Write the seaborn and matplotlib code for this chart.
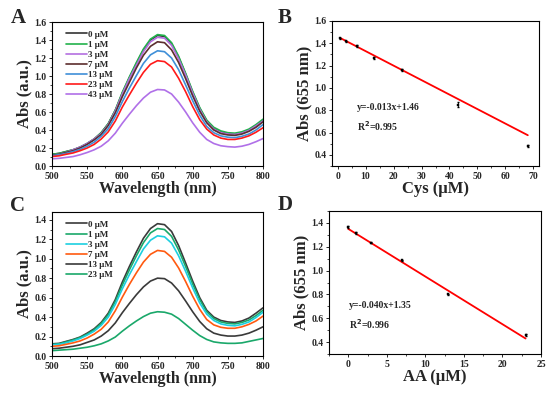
import numpy as np
import pandas as pd
import matplotlib
matplotlib.use('Agg')
import matplotlib.pyplot as plt
import seaborn as sns
from matplotlib.ticker import MultipleLocator

sns.set_style('ticks')
plt.rcParams['font.family'] = ['Liberation Serif', 'DejaVu Serif']
plt.rcParams['font.weight'] = 'bold'
plt.rcParams['axes.labelweight'] = 'bold'
plt.rcParams['axes.linewidth'] = 0.8

# ── Spectra data ──
WL = list(range(500, 801, 10))

CYS_LABELS = ['0 μM', '1 μM', '3 μM', '7 μM', '13 μM', '23 μM', '43 μM']
CYS_SPECTRA = [
    [0.13, 0.14, 0.16, 0.18, 0.21, 0.25, 0.30, 0.37, 0.47, 0.62, 0.81, 0.98, 1.14, 1.29, 1.40, 1.45,
     1.44, 1.36, 1.21, 1.02, 0.82, 0.64, 0.50, 0.42, 0.38, 0.36, 0.355, 0.37, 0.40, 0.45, 0.51],
    [0.13, 0.14, 0.16, 0.18, 0.21, 0.25, 0.30, 0.37, 0.47, 0.62, 0.82, 0.99, 1.15, 1.30, 1.41, 1.46,
     1.45, 1.37, 1.22, 1.03, 0.83, 0.65, 0.51, 0.43, 0.39, 0.37, 0.365, 0.38, 0.41, 0.46, 0.52],
    [0.12, 0.13, 0.15, 0.18, 0.21, 0.25, 0.30, 0.36, 0.46, 0.61, 0.80, 0.97, 1.12, 1.27, 1.38, 1.43,
     1.42, 1.34, 1.19, 1.01, 0.81, 0.63, 0.49, 0.41, 0.37, 0.355, 0.35, 0.365, 0.395, 0.445, 0.50],
    [0.12, 0.13, 0.15, 0.17, 0.20, 0.24, 0.29, 0.35, 0.45, 0.59, 0.77, 0.93, 1.09, 1.23, 1.33, 1.38,
     1.37, 1.29, 1.15, 0.97, 0.78, 0.61, 0.48, 0.40, 0.36, 0.345, 0.34, 0.355, 0.385, 0.43, 0.49],
    [0.115, 0.125, 0.14, 0.16, 0.185, 0.22, 0.265, 0.33, 0.415, 0.55, 0.715, 0.865, 1.005, 1.14, 1.235, 1.28,
     1.27, 1.20, 1.07, 0.90, 0.725, 0.565, 0.44, 0.37, 0.335, 0.32, 0.315, 0.33, 0.355, 0.40, 0.46],
    [0.105, 0.113, 0.13, 0.145, 0.17, 0.20, 0.24, 0.30, 0.38, 0.50, 0.655, 0.79, 0.92, 1.04, 1.13, 1.17,
     1.16, 1.10, 0.975, 0.825, 0.66, 0.515, 0.41, 0.345, 0.31, 0.295, 0.295, 0.31, 0.335, 0.375, 0.425],
    [0.08, 0.085, 0.095, 0.105, 0.125, 0.15, 0.18, 0.22, 0.28, 0.365, 0.475, 0.575, 0.67, 0.755, 0.82, 0.85,
     0.845, 0.80, 0.71, 0.60, 0.48, 0.375, 0.295, 0.25, 0.225, 0.215, 0.21, 0.22, 0.24, 0.27, 0.305],
]
CYS_COLORS = ['#333333', '#22b24c', '#b46fe0', '#5c2e2e', '#3f8fd8', '#ff1a1a', '#b070e8']

AA_LABELS = ['0 μM', '1 μM', '3 μM', '7 μM', '13 μM', '23 μM']
AA_SPECTRA = [
    [0.125, 0.13, 0.15, 0.17, 0.195, 0.235, 0.28, 0.345, 0.44, 0.58, 0.76, 0.92, 1.07, 1.21, 1.31, 1.36,
     1.35, 1.28, 1.135, 0.955, 0.77, 0.60, 0.47, 0.40, 0.365, 0.35, 0.345, 0.36, 0.39, 0.44, 0.495],
    [0.12, 0.125, 0.145, 0.165, 0.19, 0.225, 0.27, 0.335, 0.425, 0.56, 0.73, 0.885, 1.03, 1.165, 1.265, 1.31,
     1.30, 1.23, 1.09, 0.92, 0.74, 0.58, 0.455, 0.385, 0.35, 0.335, 0.33, 0.345, 0.37, 0.415, 0.47],
    [0.115, 0.12, 0.135, 0.155, 0.18, 0.215, 0.255, 0.315, 0.40, 0.53, 0.69, 0.835, 0.97, 1.10, 1.19, 1.235,
     1.225, 1.16, 1.03, 0.87, 0.70, 0.545, 0.43, 0.365, 0.33, 0.315, 0.31, 0.325, 0.35, 0.395, 0.45],
    [0.10, 0.105, 0.12, 0.135, 0.155, 0.185, 0.225, 0.275, 0.35, 0.465, 0.605, 0.735, 0.855, 0.965, 1.045, 1.085,
     1.075, 1.015, 0.905, 0.765, 0.615, 0.48, 0.375, 0.32, 0.295, 0.285, 0.285, 0.30, 0.325, 0.36, 0.41],
    [0.075, 0.08, 0.09, 0.10, 0.115, 0.14, 0.165, 0.205, 0.26, 0.34, 0.445, 0.54, 0.63, 0.71, 0.77, 0.80,
     0.795, 0.75, 0.67, 0.565, 0.455, 0.355, 0.28, 0.235, 0.215, 0.205, 0.205, 0.215, 0.235, 0.265, 0.30],
    [0.055, 0.06, 0.065, 0.07, 0.08, 0.09, 0.105, 0.125, 0.155, 0.195, 0.255, 0.31, 0.36, 0.405, 0.44, 0.455,
     0.45, 0.43, 0.385, 0.325, 0.265, 0.21, 0.17, 0.145, 0.135, 0.13, 0.13, 0.135, 0.15, 0.165, 0.18],
]
AA_COLORS = ['#3a3a3a', '#1aa86a', '#1ccfe0', '#ff5a10', '#3a3a3a', '#1aa86a']

# ── Calibration data ──
CYS_X = [1, 3, 7, 13, 23, 43, 68]
CYS_Y = [1.445, 1.42, 1.375, 1.27, 1.16, 0.85, 0.48]
CYS_ERR = [0.005, 0.005, 0.006, 0.008, 0.006, 0.02, 0.01]
CYS_SLOPE, CYS_INT = -0.013, 1.46

AA_X = [0, 1, 3, 7, 13, 23]
AA_Y = [1.365, 1.315, 1.235, 1.085, 0.80, 0.46]
AA_ERR = [0.008, 0.005, 0.005, 0.006, 0.006, 0.01]
AA_SLOPE, AA_INT = -0.040, 1.35

W, H = 550, 397
fig = plt.figure(figsize=(W / 100, H / 100), dpi=100)


def add_ax(l, t, r, b):
    return fig.add_axes([l / W, 1 - b / H, (r - l) / W, (b - t) / H])


def style_ax(ax):
    for s in ax.spines.values():
        s.set_visible(True)
        s.set_color('black')
        s.set_linewidth(0.8)
    ax.tick_params(which='major', direction='out', length=2.5, width=0.7,
                   labelsize=7, pad=1.5, top=False, right=False)
    ax.tick_params(which='minor', direction='out', length=1.5, width=0.6,
                   top=False, right=False)
    for lab in ax.get_xticklabels() + ax.get_yticklabels():
        lab.set_fontweight('bold')


def spectra_panel(ax, labels, spectra, colors, ylim, ymaj):
    rows = []
    for lab, vals in zip(labels, spectra):
        for w, v in zip(WL, vals):
            rows.append({'wl': w, 'abs': v, 'conc': lab})
    df = pd.DataFrame(rows)
    sns.lineplot(data=df, x='wl', y='abs', hue='conc', hue_order=labels,
                 palette=dict(zip(labels, colors)), linewidth=1.2, ax=ax)
    ax.set_xlim(500, 800)
    ax.set_ylim(*ylim)
    ax.xaxis.set_major_locator(MultipleLocator(50))
    ax.xaxis.set_minor_locator(MultipleLocator(25))
    ax.yaxis.set_major_locator(MultipleLocator(ymaj))
    ax.yaxis.set_minor_locator(MultipleLocator(ymaj / 2))
    ax.yaxis.set_major_formatter(plt.FormatStrFormatter('%.1f'))
    ax.set_xlabel('Wavelength (nm)', fontsize=11.5, fontweight='bold', labelpad=0)
    ax.set_ylabel('Abs (a.u.)', fontsize=12, fontweight='bold', labelpad=1)
    leg = ax.legend(loc='upper left', frameon=False, fontsize=6.5,
                    handlelength=2.3, handletextpad=0.15, labelspacing=0.2,
                    borderaxespad=0.2, bbox_to_anchor=(0.04, 0.98))
    for t in leg.get_texts():
        t.set_fontweight('bold')
    for ln in leg.get_lines():
        ln.set_linewidth(1.2)
    style_ax(ax)


def calib_panel(ax, x, y, err, slope, inter, xlim, ylim, xmaj, xlabel, eq, r2, tx, ty1, ty2):
    fit_x = [x[0], x[-1]]
    fit_df = pd.DataFrame({'x': fit_x, 'y': [slope * v + inter for v in fit_x]})
    sns.lineplot(data=fit_df, x='x', y='y', color='#ff0000', linewidth=1.3, ax=ax)
    ax.errorbar(x, y, yerr=err, fmt='none', ecolor='black', elinewidth=0.6, capsize=0.8, zorder=3)
    sns.scatterplot(x=x, y=y, marker='s', s=4, color='black', edgecolor='black',
                    linewidth=0.3, ax=ax, zorder=4)
    ax.set_xlim(*xlim)
    ax.set_ylim(*ylim)
    ax.xaxis.set_major_locator(MultipleLocator(xmaj))
    ax.xaxis.set_minor_locator(MultipleLocator(xmaj / 2))
    ax.yaxis.set_major_locator(MultipleLocator(0.2))
    ax.yaxis.set_minor_locator(MultipleLocator(0.1))
    ax.yaxis.set_major_formatter(plt.FormatStrFormatter('%.1f'))
    ax.set_xlabel(xlabel, fontsize=12, fontweight='bold', labelpad=0)
    ax.set_ylabel('Abs (655 nm)', fontsize=12, fontweight='bold', labelpad=1)
    ax.text(tx, ty1, eq, transform=ax.transAxes, fontsize=7, fontweight='bold', va='center')
    ax.text(tx, ty2, r2, transform=ax.transAxes, fontsize=7, fontweight='bold', va='center')
    style_ax(ax)


axA = add_ax(52, 22, 263, 166)
spectra_panel(axA, CYS_LABELS, CYS_SPECTRA, CYS_COLORS, (0, 1.6), 0.2)

axB = add_ax(332, 21, 539, 166)
calib_panel(axB, CYS_X, CYS_Y, CYS_ERR, CYS_SLOPE, CYS_INT, (-2, 72), (0.3, 1.6), 10,
            'Cys (μM)', 'y=-0.013x+1.46', 'R$^2$=0.995', 0.12, 0.40, 0.276)

axC = add_ax(52, 212, 263, 356)
spectra_panel(axC, AA_LABELS, AA_SPECTRA, AA_COLORS, (0, 1.48), 0.2)

axD = add_ax(329, 211, 541, 354)
calib_panel(axD, AA_X, AA_Y, AA_ERR, AA_SLOPE, AA_INT, (-2.5, 25), (0.3, 1.5), 5,
            'AA (μM)', 'y=-0.040x+1.35', 'R$^2$=0.996', 0.094, 0.34, 0.21)

for letter, px, py in [('A', 11, 23), ('B', 278, 23), ('C', 10, 211), ('D', 278, 210)]:
    fig.text(px / W, 1 - py / H, letter, fontsize=15, fontweight='bold',
             ha='left', va='baseline')

fig.savefig('out.png', dpi=100)
